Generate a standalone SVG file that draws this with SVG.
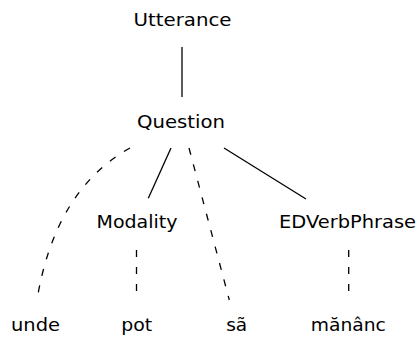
<svg xmlns="http://www.w3.org/2000/svg" width="417" height="338" viewBox="0 0 417 338">
<style>
text{font-family:"DejaVu Sans",Verdana,sans-serif;font-size:17px;fill:#000;text-anchor:middle}
.e{fill:none;stroke:#000;stroke-width:1.3}
.d{stroke-dasharray:7 10}
</style>
<rect width="417" height="338" fill="#fff"/>
<g id="connectors">
<line class="e" x1="182" y1="47" x2="182" y2="97"/>
<line class="e" x1="171" y1="148" x2="148.3" y2="198.3"/>
<line class="e" x1="224" y1="148" x2="306" y2="199"/>
<line class="e d" x1="189" y1="148" x2="229.3" y2="300"/>
<path class="e d" d="M130,148 Q55,190 37,300"/>
<line class="e d" x1="136.5" y1="250" x2="136.5" y2="292"/>
<line class="e d" x1="348.7" y1="250" x2="348.7" y2="292"/>
</g>
<g id="n-utterance"><text x="182.5" y="26" textLength="98" lengthAdjust="spacingAndGlyphs">Utterance</text></g>
<g id="n-question"><text x="181" y="128" textLength="88" lengthAdjust="spacingAndGlyphs">Question</text></g>
<g id="n-modality"><text x="137" y="228" textLength="81" lengthAdjust="spacingAndGlyphs">Modality</text></g>
<g id="n-edverbphrase"><text x="347.5" y="228" textLength="137" lengthAdjust="spacingAndGlyphs">EDVerbPhrase</text></g>
<g id="n-unde"><text x="35.5" y="331" textLength="49" lengthAdjust="spacingAndGlyphs">unde</text></g>
<g id="n-pot"><text x="136.7" y="331" textLength="31" lengthAdjust="spacingAndGlyphs">pot</text></g>
<g id="n-sa"><text x="236.7" y="331" textLength="21" lengthAdjust="spacingAndGlyphs">sã</text></g>
<g id="n-manac"><text x="348.3" y="331" textLength="75" lengthAdjust="spacingAndGlyphs">mănânc</text></g>
</svg>
